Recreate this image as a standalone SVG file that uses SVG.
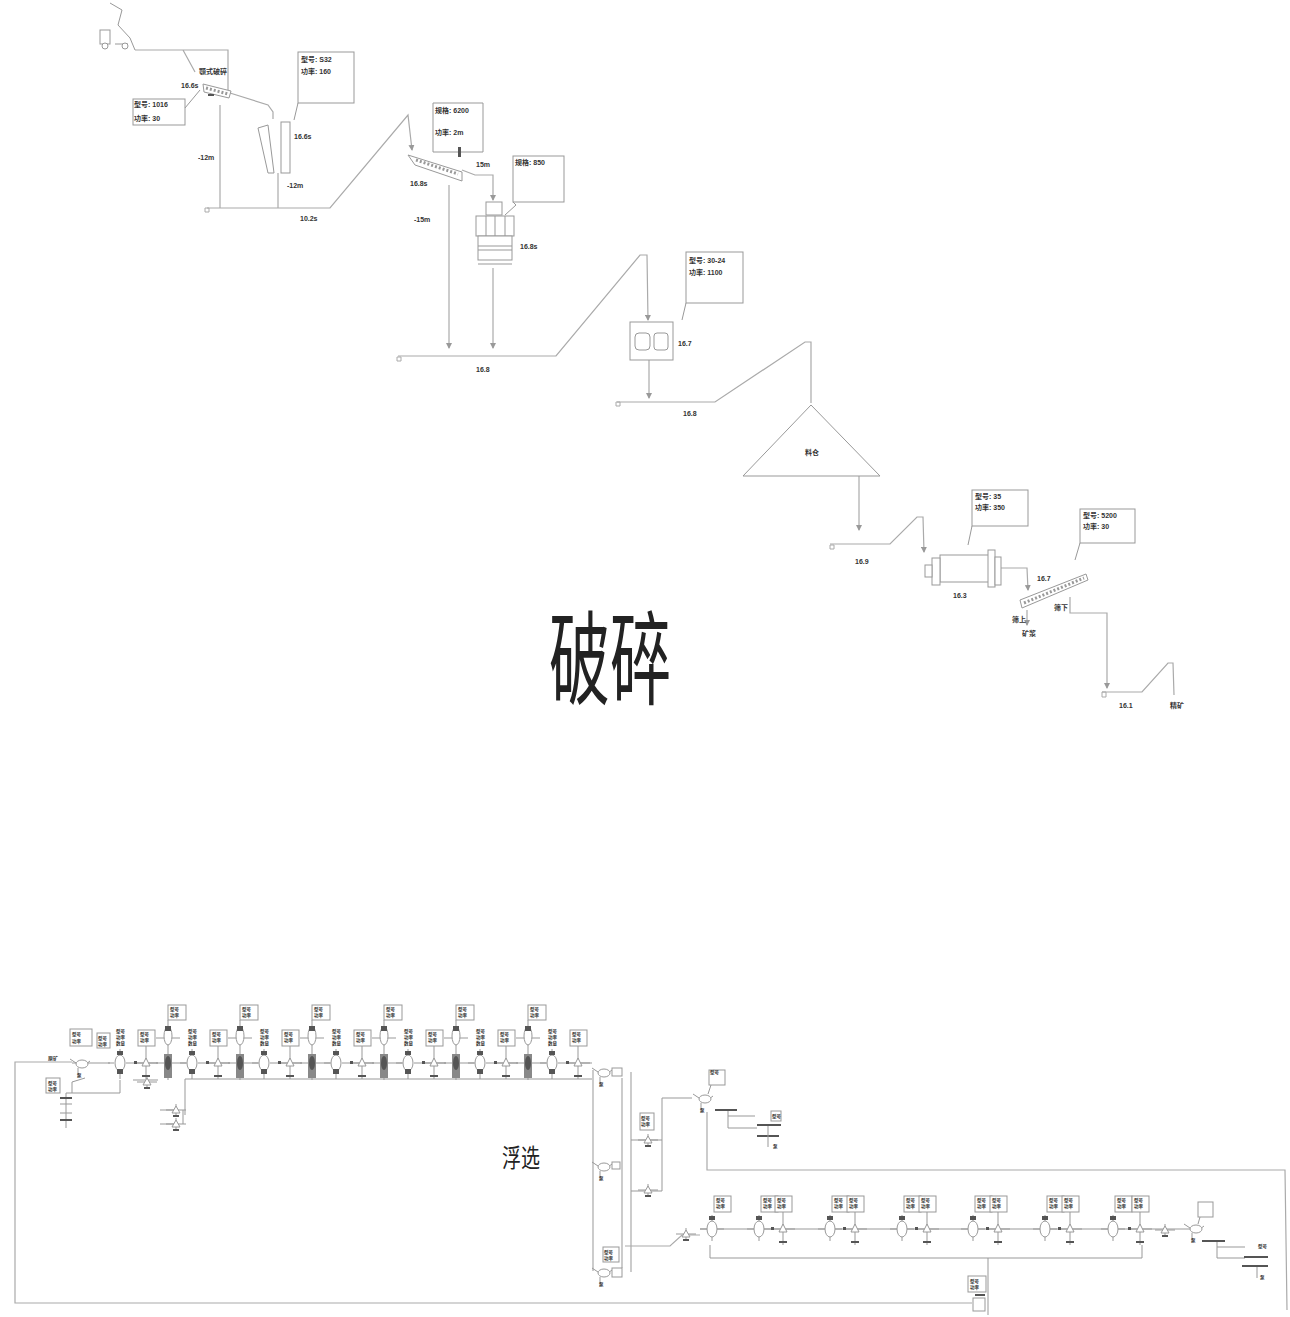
<svg xmlns="http://www.w3.org/2000/svg" width="1290" height="1317" viewBox="0 0 1290 1317">
<style>
text{font-family:"Liberation Sans","Noto Sans CJK SC",sans-serif;fill:#333}
.l{font-size:7px;font-weight:700}
.t{font-size:4.5px;font-weight:700}
.n{fill:#fff;stroke:#999;stroke-width:1}
.f{fill:none;stroke:#999;stroke-width:1}
.c{fill:none;stroke:#aaa;stroke-width:1.2}
.h{fill:none;stroke:#999;stroke-width:3;stroke-dasharray:2 2}
.d{fill:#555;stroke:none}
.a{fill:#888;stroke:none}
.s{fill:none;stroke:#aaa;stroke-width:1}
.big{fill:#222;font-weight:400}
</style>
<defs>
<marker id="arr" markerWidth="6" markerHeight="6" refX="5" refY="3" orient="auto" markerUnits="userSpaceOnUse"><path d="M0 0L6 3L0 6Z" fill="#999"/></marker>
<g id="cellA"><text class="t" x="-4" y="-30">型号</text><text class="t" x="-4" y="-24">功率</text><text class="t" x="-4" y="-18">数量</text><path class="f" d="M0 -14V16M-12 0H-6M6 0H12"/><ellipse class="n" cx="0" cy="0" rx="5" ry="8"/><rect class="d" x="-3" y="-12" width="6" height="4"/><rect class="d" x="-3" y="6" width="6" height="5"/></g>
<g id="cellB"><rect class="n" x="-8" y="-33" width="17" height="16"/><text class="t" x="-6" y="-27">型号</text><text class="t" x="-6" y="-21">功率</text><path class="f" d="M0 -17V16M-12 0H12"/><path class="n" d="M-4 3L0 -5L4 3Z"/><rect class="d" x="-4" y="12" width="8" height="2"/><rect class="d" x="-12" y="-2" width="3" height="3"/></g>
<g id="cellT"><rect class="n" x="0" y="-58" width="18" height="15"/><text class="t" x="2" y="-52">型号</text><text class="t" x="2" y="-46">功率</text><path class="f" d="M0 -43V17M-12 -25H12M-12 0H12"/><ellipse class="n" cx="0" cy="-27" rx="4" ry="9"/><rect class="d" x="-3" y="-37" width="6" height="5"/><rect class="a" x="-4" y="-9" width="8" height="24"/><ellipse class="d" cx="0" cy="0" rx="3" ry="7"/></g>
<g id="cellL"><rect class="n" x="2" y="-33" width="17" height="16"/><text class="t" x="4" y="-27">型号</text><text class="t" x="4" y="-21">功率</text><path class="f" d="M0 -14V12M-12 0H12"/><ellipse class="n" cx="0" cy="0" rx="5" ry="8"/><rect class="d" x="-3" y="-13" width="6" height="4"/></g>
<g id="sep"><path class="f" d="M-12 -4L0 4L8 -2M-4 5V14"/><ellipse class="n" cx="0" cy="1" rx="6" ry="4"/><text class="t" x="-5" y="14">泵</text></g>
<g id="mini"><path class="f" d="M-10 0H10M0 -6V6"/><path class="n" d="M-4 3L0 -4L4 3Z"/><rect class="d" x="-3" y="5" width="6" height="2"/></g>
</defs>

<g id="connectors">
<path class="c" d="M135 50H228V90M183 50L195 72"/>
<path class="c" d="M220 105V208"/>
<path class="c" d="M230 93L268 105L273 112V119"/>
<path class="c" d="M278 173V208"/>
<path class="c" d="M207 208H330L408 115L412 150" marker-end="url(#arr)"/>
<path class="c" d="M449 185V348" marker-end="url(#arr)"/>
<path class="c" d="M462 170L475 175H493V200" marker-end="url(#arr)"/>
<path class="c" d="M493 268V348" marker-end="url(#arr)"/>
<path class="c" d="M398 356H556L640 255H647L648 320" marker-end="url(#arr)"/>
<path class="c" d="M649 360V398" marker-end="url(#arr)"/>
<path class="c" d="M617 402H715L805 342H811V403"/>
<path class="c" d="M859 476V530" marker-end="url(#arr)"/>
<path class="c" d="M830 544H890L917 517H923L924 552" marker-end="url(#arr)"/>
<path class="c" d="M1001 568H1027L1028 590" marker-end="url(#arr)"/>
<path class="c" d="M1027 610V625" marker-end="url(#arr)"/>
<path class="c" d="M1070 597V613H1107V688" marker-end="url(#arr)"/>
<path class="c" d="M1102 692H1142L1168 663H1173L1174 695"/>
<path class="s" d="M205 208h4v4h-4zM397 357h4v4h-4zM616 402h4v4h-4zM830 545h4v4h-4zM1102 692h4v5h-4z"/>

<path class="c" d="M72 1062H15V1303H972"/>
<path class="f" d="M72 1063H110M132 1063H158M180 1063H190M204 1063H230M252 1063H262M276 1063H302M324 1063H334M348 1063H374M396 1063H406M420 1063H446M468 1063H478M492 1063H518M540 1063H550M564 1063H592"/>
<path class="f" d="M185 1079H592M185 1079V1115"/>
<path class="f" d="M66 1093H120V1080M85 1078L72 1082V1093M133 1080H158"/>
<path class="f" d="M160 1110H175M160 1124H175M183 1110V1124"/>
<path class="c" d="M593 1070V1271M622 1078V1268M631 1072V1272"/>
<path class="f" d="M631 1140H662V1098H692M631 1191H662V1140"/>
<path class="c" d="M625 1246H670L682 1235H700"/>
<path class="c" d="M707 1112V1170H1285L1287 1310"/>
<path class="f" d="M728 1110V1128H757M728 1116H755"/>
<path class="f" d="M700 1229H1190"/>
<path class="f" d="M710 1245V1258H1142V1245"/>
<path class="f" d="M1217 1241V1258H1245M1217 1247H1245"/>
<path class="f" d="M988 1258V1315"/>
</g>

<g id="truck"><path class="f" d="M110 3L122 10L118 25L130 38L135 50M115 44H128"/><rect class="n" x="100" y="30" width="10" height="14"/><circle class="n" cx="105" cy="46" r="3"/><circle class="n" cx="125" cy="46" r="3"/></g>
<g id="feeder"><path class="n" d="M203 84L231 91L229 98L204 92Z"/><path class="h" d="M206 88L228 94"/><rect class="d" x="208" y="94" width="6" height="2"/><text class="l" x="199" y="74">颚式破碎</text><text class="l" x="181" y="88">16.6s</text></g>
<g id="box1"><rect class="n" x="133" y="99" width="52" height="26"/><text class="l" x="134" y="107">型号: 1016</text><text class="l" x="134" y="121">功率: 30</text><path class="f" d="M185 108L200 90"/></g>
<g id="conveyor1"><path class="n" d="M258 128L268 125L274 173H268Z"/></g>
<g id="crusher1"><rect class="n" x="281" y="122" width="9" height="51"/><text class="l" x="294" y="139">16.6s</text></g>
<g id="box2"><rect class="n" x="298" y="52" width="56" height="51"/><text class="l" x="301" y="62">型号: S32</text><text class="l" x="301" y="74">功率: 160</text><path class="f" d="M298 103L294 120"/></g>
<text class="l" x="198" y="160">-12m</text><text class="l" x="287" y="188">-12m</text><text class="l" x="300" y="221">10.2s</text>

<g id="screen1"><path class="n" d="M408 155L462 172L462 181L415 165Z"/><path class="h" d="M416 160L458 174"/><text class="l" x="410" y="186">16.8s</text></g>
<g id="box3"><path class="n" d="M433 152V103H483V152"/><path class="f" d="M433 152H483"/><text class="l" x="435" y="113">规格: 6200</text><text class="l" x="435" y="135">功率: 2m</text><rect class="d" x="458" y="147" width="3" height="10"/></g>
<text class="l" x="476" y="167">15m</text><text class="l" x="414" y="222">-15m</text>
<g id="crusher2"><rect class="n" x="486" y="202" width="16" height="13"/><rect class="n" x="476" y="216" width="38" height="20"/><path class="f" d="M486 216V236M495 216V236M505 216V236"/><rect class="n" x="478" y="236" width="34" height="24"/><path class="f" d="M478 246H512M478 250H512M478 264H512"/><text class="l" x="520" y="249">16.8s</text></g>
<g id="box4"><rect class="n" x="513" y="156" width="51" height="46"/><text class="l" x="515" y="165">规格: 850</text><path class="f" d="M513 202L516 205L505 215"/></g>
<text class="l" x="476" y="372">16.8</text>
<g id="crusher3"><rect class="n" x="630" y="322" width="43" height="38"/><rect class="n" x="635" y="333" width="15" height="17" rx="4"/><rect class="n" x="654" y="333" width="14" height="17" rx="3"/><text class="l" x="678" y="346">16.7</text></g>
<g id="box5"><rect class="n" x="686" y="252" width="57" height="51"/><text class="l" x="689" y="263">型号: 30-24</text><text class="l" x="689" y="275">功率: 1100</text><path class="f" d="M686 303L682 320"/></g>
<text class="l" x="683" y="416">16.8</text>
<g id="silo"><path class="n" d="M811 405L743 476H880Z"/><text class="l" x="805" y="455">料仓</text></g>
<text class="l" x="855" y="564">16.9</text>
<g id="mill"><rect class="n" x="940" y="555" width="50" height="27"/><rect class="n" x="932" y="558" width="8" height="27"/><rect class="n" x="925" y="565" width="7" height="12"/><rect class="n" x="988" y="550" width="7" height="37"/><rect class="n" x="995" y="557" width="6" height="28"/><text class="l" x="953" y="598">16.3</text></g>
<g id="box6"><rect class="n" x="972" y="490" width="56" height="36"/><text class="l" x="975" y="499">型号: 35</text><text class="l" x="975" y="510">功率: 350</text><path class="f" d="M972 526L968 545"/></g>
<g id="screen2"><path class="n" d="M1020 600L1086 574L1088 580L1022 608Z"/><path class="h" d="M1024 603L1084 578"/><text class="l" x="1037" y="581">16.7</text><text class="l" x="1054" y="610">筛下</text><text class="l" x="1012" y="622">筛上</text><text class="l" x="1022" y="636">矿浆</text></g>
<g id="box7"><rect class="n" x="1080" y="509" width="55" height="34"/><text class="l" x="1083" y="518">型号: 5200</text><text class="l" x="1083" y="529">功率: 30</text><path class="f" d="M1080 543L1075 560"/></g>
<text class="l" x="1119" y="708">16.1</text><text class="l" x="1170" y="708">精矿</text>

<text class="big" transform="translate(549 697) scale(1 1.68)" font-size="61">破碎</text>
<text class="big" transform="translate(502 1167) scale(1 1.3)" font-size="19">浮选</text>

<g id="flotation-start"><rect class="n" x="70" y="1029" width="22" height="17"/><text class="t" x="72" y="1036">型号</text><text class="t" x="72" y="1043">功率</text><rect class="n" x="97" y="1033" width="13" height="15"/><text class="t" x="98" y="1040">型号</text><text class="t" x="98" y="1046">功率</text><text class="l" x="48" y="1060" style="font-size:5px">原矿</text><use href="#sep" x="82" y="1063"/><rect class="n" x="46" y="1078" width="14" height="15"/><text class="t" x="48" y="1085">型号</text><text class="t" x="48" y="1091">功率</text><path class="f" d="M66 1093V1128M60 1104H72M60 1113H72"/><rect class="d" x="60" y="1097" width="12" height="2"/><rect class="d" x="60" y="1119" width="12" height="2"/></g>
<g id="mini-cells"><use href="#mini" x="147" y="1082"/><use href="#mini" x="176" y="1110"/><use href="#mini" x="176" y="1124"/></g>

<g id="a1"><use href="#cellA" x="120" y="1063"/></g><g id="b1"><use href="#cellB" x="146" y="1063"/></g><g id="t1"><use href="#cellT" x="168" y="1063"/></g>
<g id="a2"><use href="#cellA" x="192" y="1063"/></g><g id="b2"><use href="#cellB" x="218" y="1063"/></g><g id="t2"><use href="#cellT" x="240" y="1063"/></g>
<g id="a3"><use href="#cellA" x="264" y="1063"/></g><g id="b3"><use href="#cellB" x="290" y="1063"/></g><g id="t3"><use href="#cellT" x="312" y="1063"/></g>
<g id="a4"><use href="#cellA" x="336" y="1063"/></g><g id="b4"><use href="#cellB" x="362" y="1063"/></g><g id="t4"><use href="#cellT" x="384" y="1063"/></g>
<g id="a5"><use href="#cellA" x="408" y="1063"/></g><g id="b5"><use href="#cellB" x="434" y="1063"/></g><g id="t5"><use href="#cellT" x="456" y="1063"/></g>
<g id="a6"><use href="#cellA" x="480" y="1063"/></g><g id="b6"><use href="#cellB" x="506" y="1063"/></g><g id="t6"><use href="#cellT" x="528" y="1063"/></g>
<g id="a7"><use href="#cellA" x="552" y="1063"/></g><g id="b7"><use href="#cellB" x="578" y="1063"/></g>

<g id="sep-top"><use href="#sep" x="604" y="1072"/><rect class="n" x="612" y="1068" width="10" height="8"/></g>
<g id="sep-mid"><use href="#sep" x="604" y="1166"/><rect class="n" x="612" y="1162" width="8" height="7"/></g>
<g id="sep-bot"><rect class="n" x="603" y="1247" width="16" height="15"/><text class="t" x="604" y="1254">型号</text><text class="t" x="604" y="1260">功率</text><use href="#sep" x="604" y="1272"/><rect class="n" x="612" y="1268" width="10" height="9"/></g>
<g id="mid-cell1"><rect class="n" x="640" y="1113" width="14" height="17"/><text class="t" x="641" y="1120">型号</text><text class="t" x="641" y="1126">功率</text><use href="#mini" x="648" y="1140"/></g>
<g id="mid-cell2"><use href="#mini" x="648" y="1190"/></g>
<g id="sep-a"><use href="#sep" x="705" y="1098"/><rect class="n" x="709" y="1070" width="16" height="15"/><text class="t" x="710" y="1074">型号</text><path class="f" d="M711 1085L708 1094"/></g>
<g id="thick-a"><rect class="d" x="715" y="1109" width="22" height="2"/></g>
<g id="thick-b"><rect class="n" x="771" y="1111" width="10" height="10"/><text class="t" x="772" y="1118">型号</text><rect class="d" x="757" y="1124" width="24" height="2"/><rect class="d" x="757" y="1135" width="22" height="2"/><path class="f" d="M768 1126V1147"/><text class="t" x="773" y="1148">泵</text></g>

<g id="pre-cell"><use href="#mini" x="686" y="1234"/></g>
<g id="la1"><use href="#cellL" x="712" y="1229"/></g>
<g id="lt1"><use href="#cellL" x="759" y="1229"/></g><g id="lb1"><use href="#cellB" x="783" y="1229"/></g>
<g id="lt2"><use href="#cellL" x="830" y="1229"/></g><g id="lb2"><use href="#cellB" x="855" y="1229"/></g>
<g id="lt3"><use href="#cellL" x="902" y="1229"/></g><g id="lb3"><use href="#cellB" x="927" y="1229"/></g>
<g id="lt4"><use href="#cellL" x="973" y="1229"/></g><g id="lb4"><use href="#cellB" x="998" y="1229"/></g>
<g id="lt5"><use href="#cellL" x="1045" y="1229"/></g><g id="lb5"><use href="#cellB" x="1070" y="1229"/></g>
<g id="lt6"><use href="#cellL" x="1113" y="1229"/></g><g id="lb6"><use href="#cellB" x="1140" y="1229"/></g>
<g id="post-cell"><use href="#mini" x="1165" y="1230"/></g>
<g id="sep-b"><use href="#sep" x="1196" y="1228"/><rect class="n" x="1198" y="1202" width="15" height="15"/><path class="f" d="M1200 1217L1198 1224"/></g>
<g id="thick-c"><rect class="d" x="1202" y="1240" width="23" height="2"/></g>
<g id="thick-d"><text class="t" x="1258" y="1248">型号</text><rect class="d" x="1244" y="1256" width="24" height="2"/><rect class="d" x="1242" y="1265" width="26" height="2"/><path class="f" d="M1257 1267V1278"/><text class="t" x="1260" y="1279">泵</text></g>
<g id="low-cell"><rect class="n" x="968" y="1276" width="18" height="16"/><text class="t" x="970" y="1283">型号</text><text class="t" x="970" y="1289">功率</text><rect class="n" x="973" y="1298" width="12" height="13"/><rect class="d" x="975" y="1294" width="10" height="2"/></g>
</svg>
